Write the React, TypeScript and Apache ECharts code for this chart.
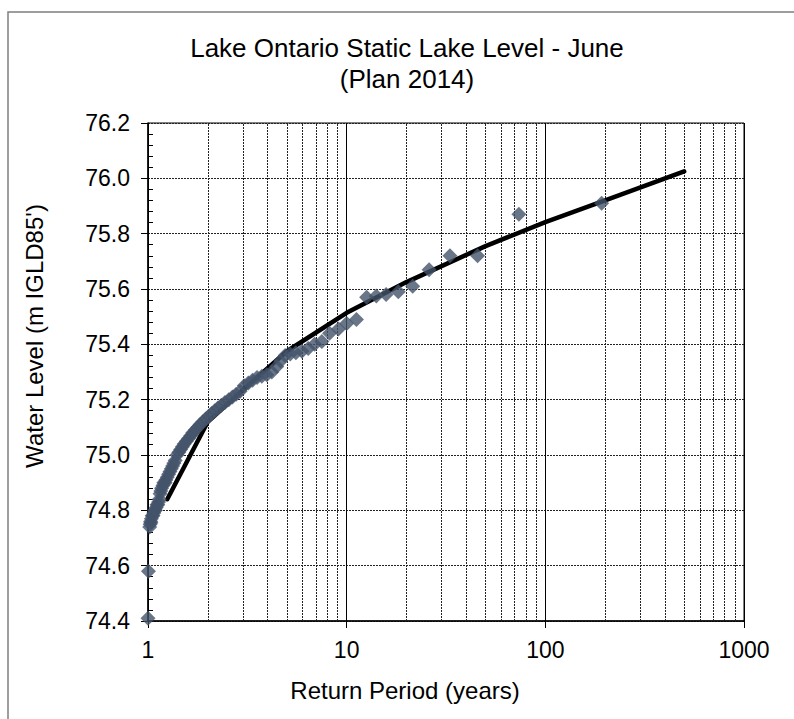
import React, { useEffect, useRef } from "react";
import * as echarts from "echarts";

// Observed annual June static levels (return period in years, level in m IGLD85)
const obsReturnPeriod = [
  1.0, 1.005, 1.02, 1.025, 1.03, 1.035, 1.04, 1.05, 1.06, 1.07, 1.08, 1.09, 1.1, 1.11, 1.12,
  1.13, 1.14, 1.15, 1.16, 1.17, 1.19, 1.2, 1.22, 1.23, 1.25, 1.27, 1.29, 1.31, 1.33, 1.35,
  1.37, 1.4, 1.43, 1.46, 1.49, 1.52, 1.56, 1.6, 1.64, 1.68, 1.73, 1.78, 1.83, 1.89, 1.95,
  2.02, 2.09, 2.17, 2.25, 2.34, 2.44, 2.55, 2.66, 2.78, 2.91, 3.05, 3.2, 3.36, 3.54, 3.74,
  3.96, 4.2, 4.45, 4.65, 4.9, 5.2, 5.55, 5.95, 6.4, 6.9, 7.5, 8.2, 9.1, 10.0, 11.2,
  12.6, 14.1, 15.8, 18.2, 21.5, 26.0, 33.1, 45.6, 73.6, 192,
];
const obsLevel = [
  74.41, 74.58, 74.74, 74.75, 74.76, 74.755, 74.77, 74.78, 74.78, 74.79, 74.8, 74.8, 74.81, 74.82, 74.82,
  74.83, 74.84, 74.86, 74.87, 74.88, 74.89, 74.9, 74.9, 74.91, 74.92, 74.93, 74.94, 74.95, 74.96, 74.97,
  74.98, 75.0, 75.01, 75.02, 75.03, 75.04, 75.05, 75.06, 75.07, 75.08, 75.09, 75.1, 75.11, 75.12, 75.13,
  75.14, 75.15, 75.16, 75.17, 75.18, 75.19, 75.2, 75.21, 75.22, 75.23, 75.25, 75.26, 75.27, 75.28, 75.285,
  75.29, 75.3, 75.32, 75.34, 75.36, 75.365, 75.37, 75.375, 75.385, 75.4, 75.41, 75.44, 75.455, 75.475, 75.49,
  75.57, 75.575, 75.58, 75.59, 75.61, 75.67, 75.72, 75.72, 75.87, 75.91,
];

// Fitted frequency curve
const fitReturnPeriod = [1.25, 2, 3, 5, 10, 20, 50, 100, 200, 500];
const fitLevel = [74.84, 75.12, 75.235, 75.375, 75.514, 75.625, 75.755, 75.842, 75.92, 76.025];

// Minor log grid lines
const minorGridValues = [
  2, 3, 4, 5, 6, 7, 8, 9, 20, 30, 40, 50, 60, 70, 80, 90, 200, 300, 400, 500, 600, 700, 800, 900,
];

const yTicks = { min: 74.4, max: 76.2, interval: 0.2 };

const TITLE_1 = "Lake Ontario Static Lake Level - June";
const TITLE_2 = "(Plan 2014)";
const X_NAME = "Return Period (years)";
const Y_NAME = "Water Level (m IGLD85')";

const FONT = "'Liberation Sans', Arial, Helvetica, sans-serif";

export default function App() {
  const ref = useRef<HTMLDivElement>(null);

  useEffect(() => {
    document.body.style.margin = "0";
    if (!ref.current) return;
    const chart = echarts.init(ref.current, undefined, { renderer: "svg" });

    const obsData = obsReturnPeriod.map((t, i) => [t, obsLevel[i]]);
    const fitData = fitReturnPeriod.map((t, i) => [t, fitLevel[i]]);

    const option: any = {
      animation: false,
      backgroundColor: "#fff",
      grid: {
        left: 148,
        top: 123,
        right: 50,
        bottom: 98,
        show: true,
        borderColor: "#000",
        borderWidth: 1,
        backgroundColor: "transparent",
      },
      xAxis: {
        type: "log",
        logBase: 10,
        min: 1,
        max: 1000,
        axisLine: { show: true, onZero: false, lineStyle: { color: "#000", width: 1.5 } },
        axisTick: { show: true, length: 7, lineStyle: { color: "#000", width: 1 } },
        axisLabel: {
          fontSize: 23,
          color: "#000",
          fontFamily: FONT,
          margin: 17,
          formatter: (v: number) => String(Math.round(v)),
        },
        splitLine: { show: true, lineStyle: { color: "#000", width: 1 } },
      },
      yAxis: [
        {
          type: "value",
          min: yTicks.min,
          max: yTicks.max,
          interval: yTicks.interval,
          axisLine: { show: true, onZero: false, lineStyle: { color: "#000", width: 1.5 } },
          axisTick: { show: true, length: 7, lineStyle: { color: "#000", width: 1 } },
          axisLabel: {
            fontSize: 23,
            color: "#000",
            fontFamily: FONT,
            margin: 18,
            formatter: (v: number) => v.toFixed(1),
          },
          splitLine: { show: true, lineStyle: { color: "#222", width: 1, type: [2, 1] } },
        },
        {
          type: "value",
          position: "left",
          min: yTicks.min,
          max: yTicks.max,
          interval: yTicks.interval,
          axisLine: { show: false, onZero: false },
          axisTick: { show: false, inside: true },
          minorTick: { show: true, splitNumber: 5, length: 5, lineStyle: { color: "#000", width: 1 } },
          axisLabel: { show: false },
          splitLine: { show: false },
        },
      ],
      series: [
        {
          type: "line",
          data: [],
          z: 1,
          silent: true,
          markLine: {
            z: 1,
            silent: true,
            symbol: ["none", "none"],
            label: { show: false },
            lineStyle: { color: "#222", width: 1, type: [2, 1] },
            emphasis: { disabled: true },
            data: minorGridValues.map((v) => ({ xAxis: v })),
          },
        },
        {
          type: "line",
          data: fitData,
          z: 3,
          showSymbol: false,
          symbol: "none",
          smooth: false,
          lineStyle: { color: "#000", width: 4.5, cap: "round", join: "round" },
        },
        {
          type: "scatter",
          data: obsData,
          z: 4,
          symbol: "diamond",
          symbolSize: 15,
          itemStyle: { color: "#44546A" },
        },
      ],
      graphic: [
        {
          type: "rect",
          shape: { x: 8, y: 12, width: 820, height: 740 },
          style: { fill: "none", stroke: "#7f7f7f", lineWidth: 1.5 },
          silent: true,
        },
        {
          type: "text",
          x: 407,
          y: 48,
          style: {
            text: TITLE_1,
            fill: "#000",
            fontSize: 26,
            fontFamily: FONT,
            align: "center",
            verticalAlign: "middle",
          },
        },
        {
          type: "text",
          x: 407,
          y: 79,
          style: {
            text: TITLE_2,
            fill: "#000",
            fontSize: 26,
            fontFamily: FONT,
            align: "center",
            verticalAlign: "middle",
          },
        },
        {
          type: "text",
          x: 405,
          y: 690,
          style: {
            text: X_NAME,
            fill: "#000",
            fontSize: 24,
            fontFamily: FONT,
            align: "center",
            verticalAlign: "middle",
          },
        },
        {
          type: "text",
          x: 34,
          y: 336,
          rotation: Math.PI / 2,
          style: {
            text: Y_NAME,
            fill: "#000",
            fontSize: 24,
            fontFamily: FONT,
            align: "center",
            verticalAlign: "middle",
          },
        },
      ],
    };

    chart.setOption(option);
    return () => chart.dispose();
  }, []);

  return <div ref={ref} style={{ width: 794, height: 719 }} />;
}
